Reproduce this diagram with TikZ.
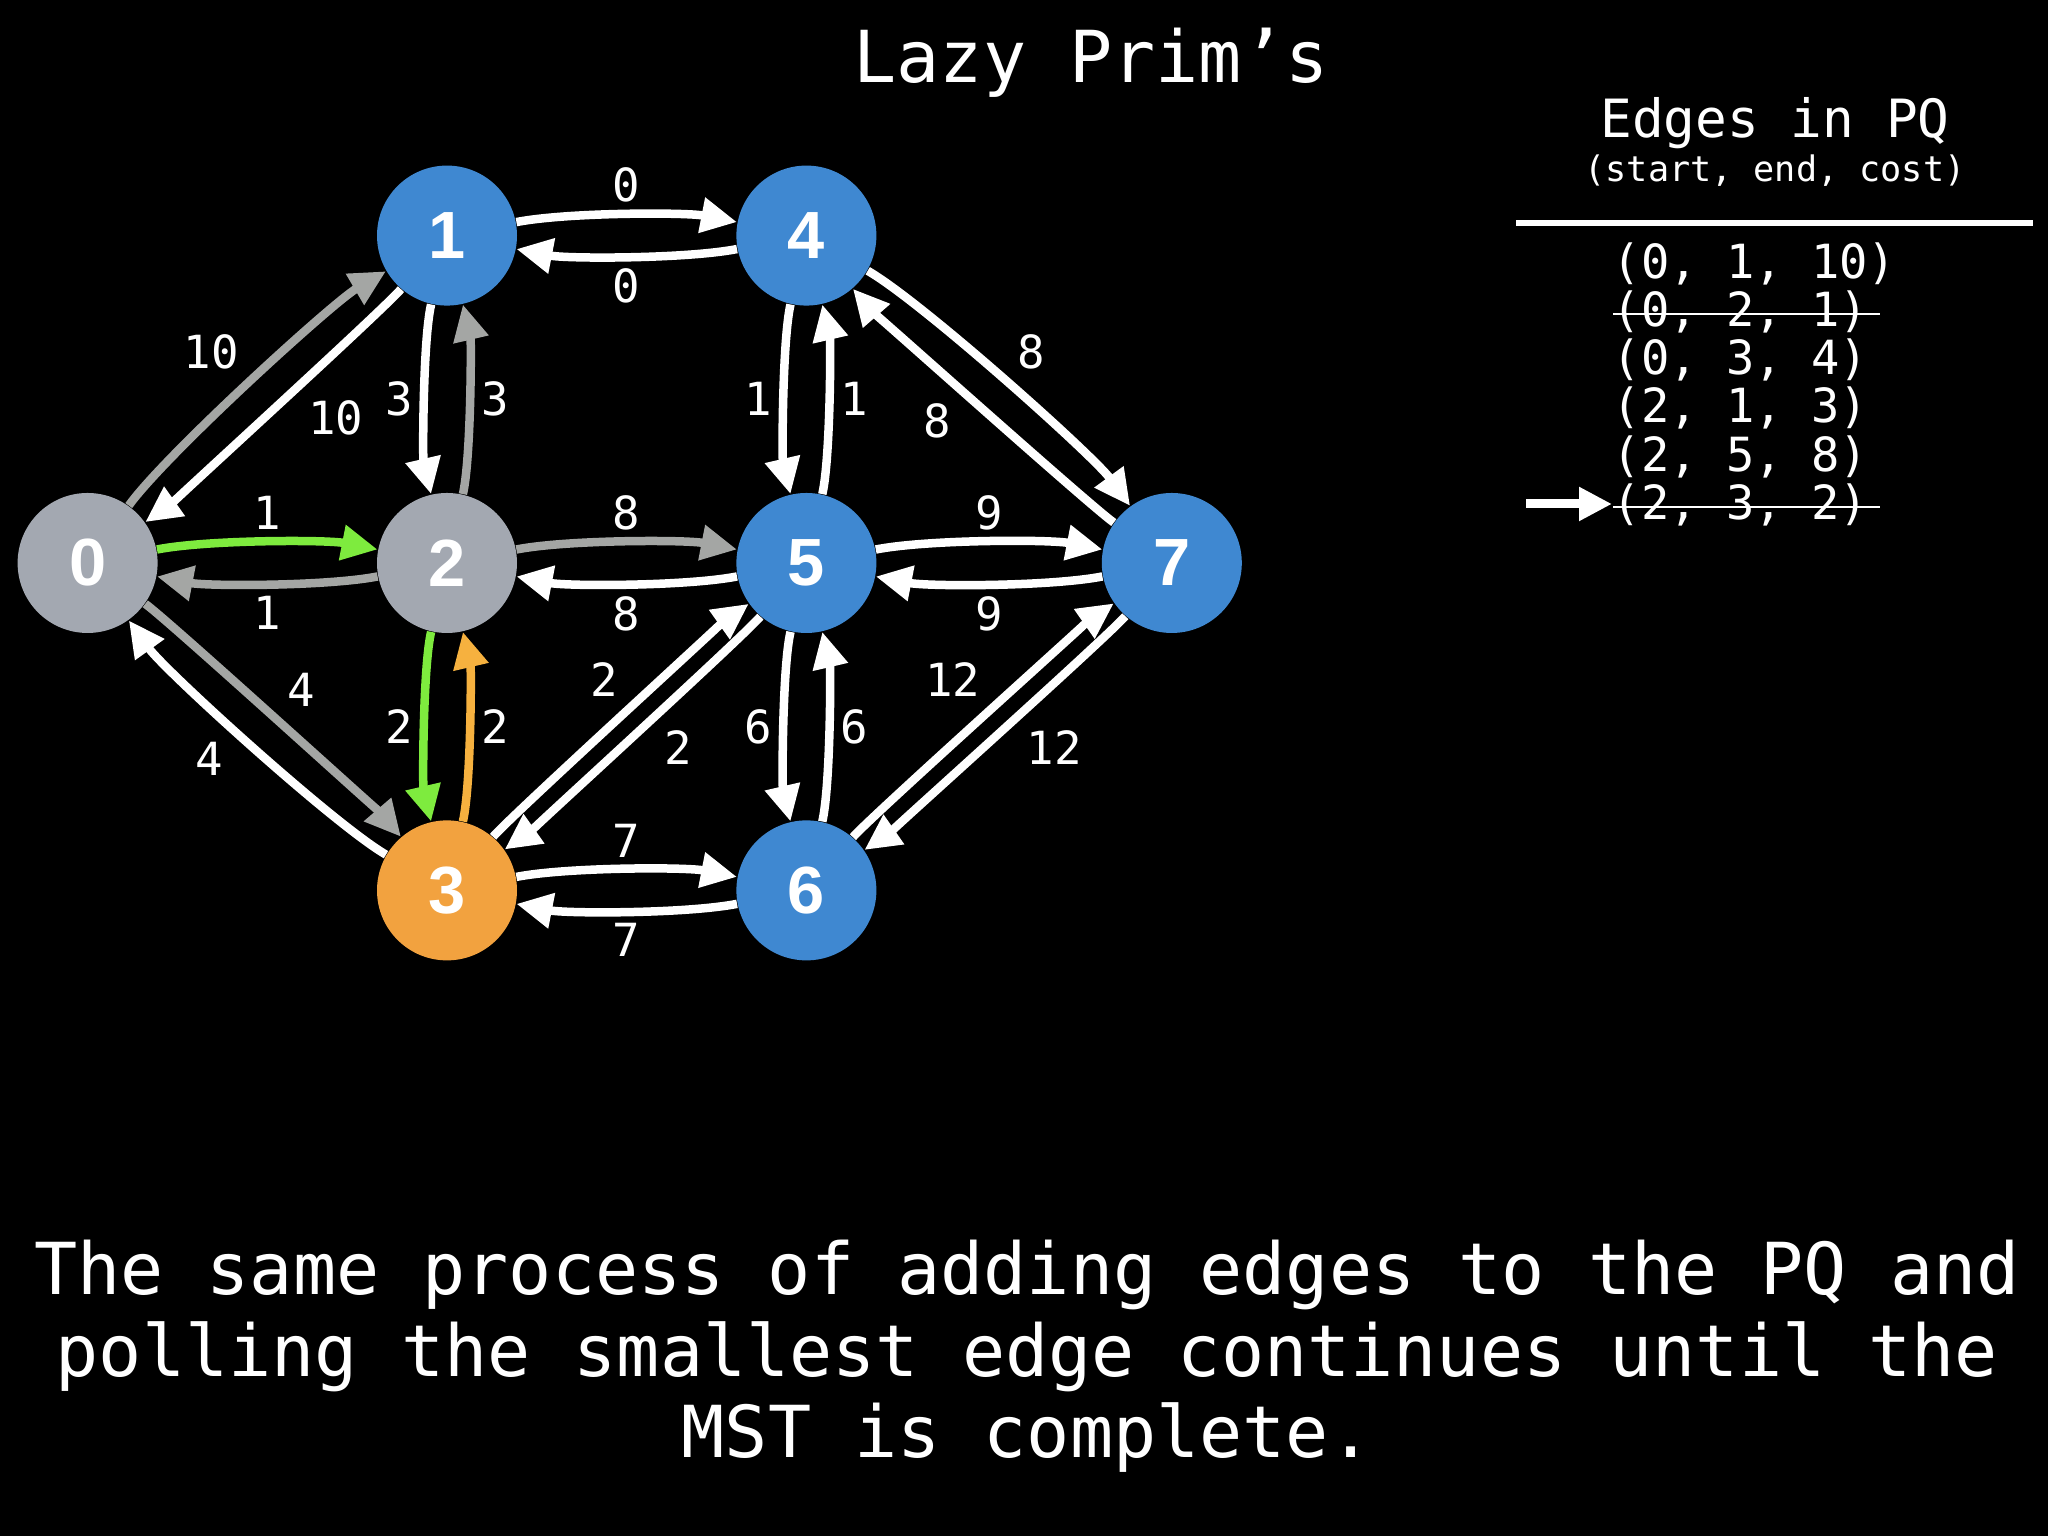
\documentclass[tikz,border=0pt]{standalone}
\usepackage{fontspec}
\setmainfont{DejaVu Sans Mono}
\setmonofont{DejaVu Sans Mono}
\newfontfamily\vertexfont{Liberation Sans}
\usetikzlibrary{arrows.meta,positioning}
\definecolor{openblue}{HTML}{3F88D1}
\definecolor{visitgray}{HTML}{A3A8B1}
\definecolor{curorange}{HTML}{F2A23F}
\definecolor{edgegray}{HTML}{A4A6A4}
\definecolor{mstgreen}{HTML}{7EEB3E}
\definecolor{pollorange}{HTML}{F6B13F}
\tikzset{
    vertex/.style={circle,minimum size=14mm,inner sep=0pt,text=white,font=\vertexfont\bfseries\fontsize{19}{19}\selectfont},
    unvisited/.style={vertex,fill=openblue},
    visited/.style={vertex,fill=visitgray},
    current/.style={vertex,fill=curorange},
    link/.style={-{Triangle[length=3.6mm,width=3.4mm]},line width=0.85mm,draw=white},
    seen/.style={link,draw=edgegray},
    mst/.style={link,draw=mstgreen},
    poll/.style={link,draw=pollorange},
    wlabel/.style={auto,inner sep=0.8mm,text=white,font=\ttfamily\fontsize{13}{13}\selectfont},
    hbend/.style={bend left=11,looseness=0.6},
    vbend/.style={bend right=13,looseness=0.5},
    widebend/.style={bend left=12,looseness=0.45},
    slimbend/.style={bend left=7,looseness=0.2},
    heading/.style={anchor=base,inner sep=0pt,text=white,font=\ttfamily\fontsize{20.4}{20.4}\selectfont},
    pqrow/.style={anchor=base west,inner sep=0pt,text=white,font=\ttfamily\fontsize{13.4}{13.4}\selectfont},
    strikeout/.style={draw=white,line width=0.25mm},
    pointer/.style={-{Triangle[length=3.3mm,width=3.2mm]},line width=0.9mm,draw=white}
}
\frenchspacing
\begin{document}
\begin{tikzpicture}[node distance=1.86cm and 2.18cm]
    \fill[black] (0,0) rectangle (20.48,15.36);
    \useasboundingbox (0,0) rectangle (20.48,15.36);

    % graph
    \node[visited] (n2) at (4.47,9.73) {2};
    \node[visited,left=of n2] (n0) {0};
    \node[unvisited,above=of n2] (n1) {1};
    \node[current,below=of n2] (n3) {3};
    \node[unvisited,right=of n2] (n5) {5};
    \node[unvisited,above=of n5] (n4) {4};
    \node[unvisited,below=of n5] (n6) {6};
    \node[unvisited,right=2.24cm of n5] (n7) {7};

    \draw[mst] (n0) to[hbend] node[wlabel] {1} (n2);
    \draw[seen] (n2) to[hbend] node[wlabel] {1} (n0);
    \draw[link] (n1) to[hbend] node[wlabel] {0} (n4);
    \draw[link] (n4) to[hbend] node[wlabel] {0} (n1);
    \draw[seen] (n2) to[hbend] node[wlabel] {8} (n5);
    \draw[link] (n5) to[hbend] node[wlabel] {8} (n2);
    \draw[link] (n5) to[hbend] node[wlabel] {9} (n7);
    \draw[link] (n7) to[hbend] node[wlabel] {9} (n5);
    \draw[link] (n3) to[hbend] node[wlabel] {7} (n6);
    \draw[link] (n6) to[hbend] node[wlabel] {7} (n3);

    \draw[link] (n1) to[vbend] node[wlabel,swap] {3} (n2);
    \draw[seen] (n2) to[vbend] node[wlabel,swap] {3} (n1);
    \draw[mst] (n2) to[vbend] node[wlabel,swap] {2} (n3);
    \draw[poll] (n3) to[vbend] node[wlabel,swap] {2} (n2);
    \draw[link] (n4) to[vbend] node[wlabel,swap] {1} (n5);
    \draw[link] (n5) to[vbend] node[wlabel,swap] {1} (n4);
    \draw[link] (n5) to[vbend] node[wlabel,swap] {6} (n6);
    \draw[link] (n6) to[vbend] node[wlabel,swap] {6} (n5);

    \draw[seen] (n0) to[widebend] node[wlabel] {10} (n1);
    \draw[link] (n1) to[slimbend] node[wlabel,pos=0.44] {10} (n0);
    \draw[seen] (n0) to[slimbend] node[wlabel] {4} (n3);
    \draw[link] (n3) to[widebend] node[wlabel,pos=0.55] {4} (n0);
    \draw[link] (n3) to[slimbend] node[wlabel,pos=0.53] {2} (n5);
    \draw[link] (n5) to[slimbend] node[wlabel,pos=0.45] {2} (n3);
    \draw[link] (n4) to[widebend] node[wlabel] {8} (n7);
    \draw[link] (n7) to[slimbend] node[wlabel,pos=0.55] {8} (n4);
    \draw[link] (n6) to[slimbend] node[wlabel,pos=0.53] {12} (n7);
    \draw[link] (n7) to[slimbend] node[wlabel,pos=0.45] {12} (n6);

    % titles
    \node[heading] (title) at (10.91,14.53) {Lazy Prim’s};
    \node[heading,font=\ttfamily\fontsize{15}{15}\selectfont] (pqhead) at (17.75,13.98) {Edges in PQ};
    \node[heading,font=\ttfamily\fontsize{10}{10}\selectfont] (pqsub) at (17.75,13.54) {(start, end, cost)};
    \coordinate (ruleL) at (15.16,13.13);
    \coordinate (ruleR) at (20.33,13.13);
    \draw[white,line width=0.6mm] (ruleL) -- (ruleR);

    % priority queue
    \node[pqrow] (pq1) at (16.12,12.57) {(0, 1, 10)};
    \node[pqrow] (pq2) at (16.12,12.09) {(0, 2, 1)};
    \node[pqrow] (pq3) at (16.12,11.61) {(0, 3, 4)};
    \node[pqrow] (pq4) at (16.12,11.13) {(2, 1, 3)};
    \node[pqrow] (pq5) at (16.12,10.64) {(2, 5, 8)};
    \node[pqrow] (pq6) at (16.12,10.16) {(2, 3, 2)};
    \draw[strikeout] ([shift={(0.01,0.13)}]pq2.base west) -- ([shift={(0.11,0.13)}]pq2.base east);
    \draw[strikeout] ([shift={(0.01,0.13)}]pq6.base west) -- ([shift={(0.11,0.13)}]pq6.base east);
    \coordinate (ptr) at (15.26,10.32);
    \draw[pointer] (ptr) -- (ptr -| pq6.west);

    % caption
    \node[heading] (cap1) at (10.27,2.41) {The same process of adding edges to the PQ and};
    \node[heading] (cap2) at (10.27,1.59) {polling the smallest edge continues until the};
    \node[heading] (cap3) at (10.27,0.78) {MST is complete.};
\end{tikzpicture}
\end{document}
